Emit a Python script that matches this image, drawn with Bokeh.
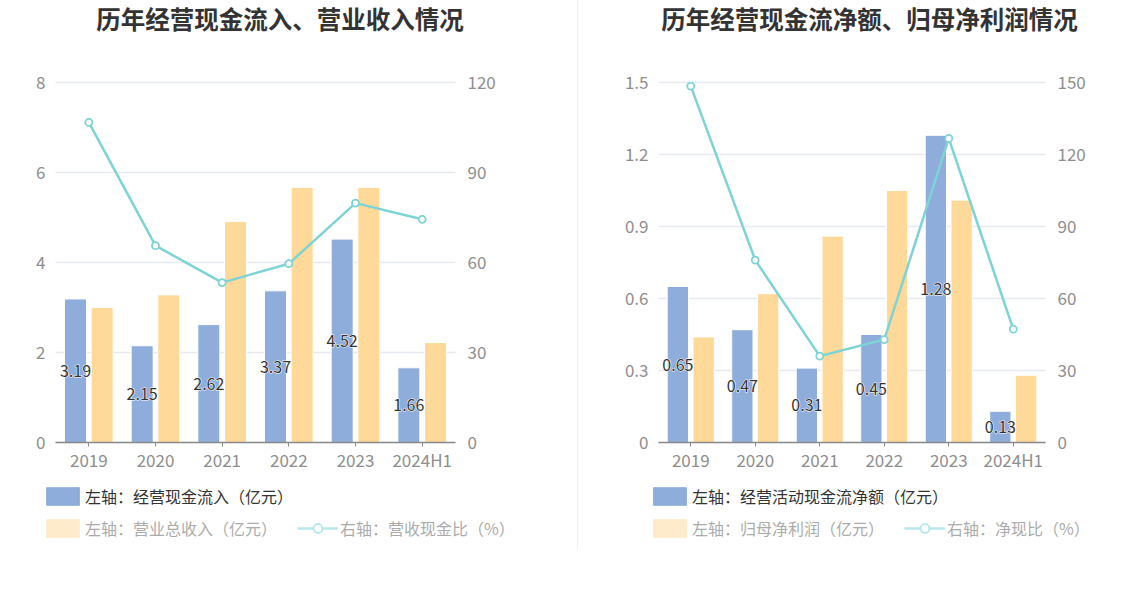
from bokeh.plotting import figure
from bokeh.models import (ColumnDataSource, Range1d, LinearAxis, FixedTicker,
                          NumeralTickFormatter, Legend, LegendItem, Label, Div)
from bokeh.transform import dodge
from bokeh.layouts import row
from bokeh.core.properties import value
from bokeh.embed import file_html
from bokeh.resources import INLINE

# ---------------- data ----------------
years = ["2019", "2020", "2021", "2022", "2023", "2024H1"]

# chart 1
cash_inflow = [3.19, 2.15, 2.62, 3.37, 4.52, 1.66]          # 经营现金流入（亿元）
total_revenue = [3.00, 3.28, 4.91, 5.67, 5.67, 2.22]        # 营业总收入（亿元）
cash_to_revenue = [106.7, 65.6, 53.3, 59.6, 79.8, 74.4]     # 营收现金比（%）
left_ticks_1 = [0, 2, 4, 6, 8]
right_ticks_1 = [0, 30, 60, 90, 120]

# chart 2
net_cash_flow = [0.65, 0.47, 0.31, 0.45, 1.28, 0.13]        # 经营活动现金流净额（亿元）
net_profit = [0.44, 0.62, 0.86, 1.05, 1.01, 0.28]           # 归母净利润（亿元）
cash_to_profit = [148.5, 76.0, 36.0, 42.9, 126.7, 47.2]     # 净现比（%）
left_ticks_2 = [0, 0.3, 0.6, 0.9, 1.2, 1.5]
right_ticks_2 = [0, 30, 60, 90, 120, 150]

titles = ["历年经营现金流入、营业收入情况", "历年经营现金流净额、归母净利润情况"]
legend_labels_1 = ["左轴：经营现金流入（亿元）", "左轴：营业总收入（亿元）", "右轴：营收现金比（%）"]
legend_labels_2 = ["左轴：经营活动现金流净额（亿元）", "左轴：归母净利润（亿元）", "右轴：净现比（%）"]

# ---------------- style ----------------
FONT = "Noto Sans CJK SC"
BLUE = "#8FADDB"
YELLOW = "#FFD999"
CYAN = "#7ED3D4"
PALE_YELLOW = "#FEEBCB"
PALE_CYAN = "#B7E8EA"
GRID = "#E6E9F3"
TICK_TEXT = "#8E8E8E"
AXIS = "#8A8A8A"
NAN = float("nan")

CANVAS_H = 548
PLOT_TOP = 82      # px from canvas top to the highest tick
PLOT_BOTTOM = 442  # px from canvas top to the zero line


def make_chart(title, bars_a, bars_b, ratio, lticks, rticks, labels, fmt,
               canvas_w, plot_left, plot_w, title_cx, legend_x):
    n = len(years)
    xi = list(range(n))
    # pixel <-> data mapping (the frame covers the whole canvas)
    ppx = plot_w / n
    x_start = -0.5 - plot_left / ppx
    x_end = x_start + canvas_w / ppx
    lmax, rmax = lticks[-1], rticks[-1]
    ppy_l = (PLOT_BOTTOM - PLOT_TOP) / lmax
    ppy_r = (PLOT_BOTTOM - PLOT_TOP) / rmax
    yl = Range1d(-(CANVAS_H - PLOT_BOTTOM) / ppy_l, PLOT_BOTTOM / ppy_l)
    yr_rng = Range1d(-(CANVAS_H - PLOT_BOTTOM) / ppy_r, PLOT_BOTTOM / ppy_r)

    src = ColumnDataSource(dict(
        xi=xi, a=bars_a, b=bars_b, r=ratio,
        amid=[v / 2 for v in bars_a],
        alab=["%.2f" % v for v in bars_a],
    ))
    p = figure(x_range=Range1d(x_start, x_end), y_range=yl,
               width=canvas_w, height=CANVAS_H, min_border=0,
               output_backend="svg", toolbar_location=None, title=None,
               background_fill_color="white", border_fill_color="white")
    p.extra_y_ranges = {"r": yr_rng}
    p.outline_line_color = None
    p.xgrid.visible = False
    p.ygrid.visible = False

    # horizontal grid lines at the left-axis ticks, across the category span
    p.segment(x0=[-0.5] * len(lticks), x1=[n - 0.5] * len(lticks), y0=lticks, y1=lticks,
              line_color=GRID, line_width=1.3)

    # bars
    p.vbar(x=dodge("xi", -0.2), top="a", width=0.33, source=src,
           fill_color=BLUE, line_color="white", line_width=1)
    p.vbar(x=dodge("xi", 0.2), top="b", width=0.33, source=src,
           fill_color=YELLOW, line_color="white", line_width=1)

    # ratio line
    p.line(x="xi", y="r", y_range_name="r", source=src, line_color=CYAN, line_width=2.5)
    p.scatter(x="xi", y="r", y_range_name="r", source=src, size=7, marker="circle",
              fill_color="white", line_color=CYAN, line_width=1.8)

    # value labels (white halo, then dark text)
    p.text(x=dodge("xi", -0.2), y="amid", text="alab", source=src,
           text_align="center", text_baseline="middle", text_font=value(FONT),
           text_font_size="16px", text_color="white", text_outline_color="white")
    p.text(x=dodge("xi", -0.2), y="amid", text="alab", source=src,
           text_align="center", text_baseline="middle", text_font=value(FONT),
           text_font_size="16px", text_color="#333333")

    # left axis
    ya = p.yaxis[0]
    ya.fixed_location = -0.5
    ya.ticker = FixedTicker(ticks=lticks)
    ya.formatter = NumeralTickFormatter(format=fmt)
    ya.axis_line_color = None
    ya.major_tick_line_color = None
    ya.minor_tick_line_color = None
    ya.major_tick_in = 0
    ya.major_tick_out = 0
    ya.minor_tick_out = 0
    ya.major_label_standoff = 10
    ya.major_label_text_font = FONT
    ya.major_label_text_font_size = "17px"
    ya.major_label_text_color = TICK_TEXT

    # right axis
    yr = LinearAxis(y_range_name="r", ticker=FixedTicker(ticks=rticks), fixed_location=n - 0.5)
    yr.axis_line_color = None
    yr.major_tick_line_color = None
    yr.minor_tick_line_color = None
    yr.major_tick_in = 0
    yr.major_tick_out = 0
    yr.minor_tick_out = 0
    yr.major_label_standoff = 12
    yr.major_label_text_font = FONT
    yr.major_label_text_font_size = "17px"
    yr.major_label_text_color = TICK_TEXT
    p.add_layout(yr, "right")

    # category axis
    xa = p.xaxis[0]
    xa.fixed_location = 0
    xa.bounds = (-0.5, n - 0.5)
    xa.ticker = FixedTicker(ticks=xi)
    xa.major_label_overrides = {i: y for i, y in zip(xi, years)}
    xa.axis_line_color = AXIS
    xa.axis_line_width = 1.5
    xa.major_tick_line_color = AXIS
    xa.minor_tick_line_color = None
    xa.minor_tick_out = 0
    xa.major_tick_in = 0
    xa.major_tick_out = 4
    xa.major_label_standoff = 0
    xa.major_label_text_font = FONT
    xa.major_label_text_font_size = "17px"
    xa.major_label_text_color = TICK_TEXT

    # title
    p.add_layout(Label(x=x_start + title_cx / ppx, y=(PLOT_BOTTOM - 18) / ppy_l,
                       text=title, text_align="center", text_baseline="middle",
                       text_font=FONT, text_font_size="24.5px", text_font_style="bold",
                       text_color="#333333"))

    # legend swatch renderers (no visible marks: NaN values)
    r_blue = p.vbar(x=[0], top=[NAN], width=0.3, fill_color=BLUE, line_color=BLUE)
    r_yel = p.vbar(x=[0], top=[NAN], width=0.3, fill_color=PALE_YELLOW, line_color=PALE_YELLOW)
    r_line = p.line(x=[0, 1], y=[NAN, NAN], line_color=PALE_CYAN, line_width=2.5)
    r_pt = p.scatter(x=[0], y=[NAN], size=13, marker="circle", fill_color="white",
                     line_color=PALE_CYAN, line_width=2)
    common = dict(orientation="horizontal", border_line_color=None,
                  background_fill_alpha=0, padding=0, margin=0,
                  glyph_width=41, glyph_height=22, label_height=22,
                  label_standoff=2, spacing=20,
                  label_text_font=FONT, label_text_font_size="16px")
    leg1 = Legend(items=[LegendItem(label=labels[0], renderers=[r_blue])],
                  location=(legend_x, CANVAS_H - 508), label_text_color="#333333", **common)
    leg2 = Legend(items=[LegendItem(label=labels[1], renderers=[r_yel]),
                         LegendItem(label=labels[2], renderers=[r_line, r_pt])],
                  location=(legend_x, CANVAS_H - 540), label_text_color="#ABABAB", **common)
    p.add_layout(leg1)
    p.add_layout(leg2)
    return p


p1 = make_chart(titles[0], cash_inflow, total_revenue, cash_to_revenue,
                left_ticks_1, right_ticks_1, legend_labels_1, "0",
                canvas_w=577, plot_left=55, plot_w=400, title_cx=279.5, legend_x=42)
p2 = make_chart(titles[1], net_cash_flow, net_profit, cash_to_profit,
                left_ticks_2, right_ticks_2, legend_labels_2, "0.[0]",
                canvas_w=569, plot_left=80, plot_w=387, title_cx=291, legend_x=71)

sep = Div(width=1, height=CANVAS_H, margin=(0, 0, 0, 0),
          styles={"background-color": "#EEEEEE"})
layout = row(p1, sep, p2, spacing=0)

open("out.html", "w").write(file_html(layout, INLINE))
